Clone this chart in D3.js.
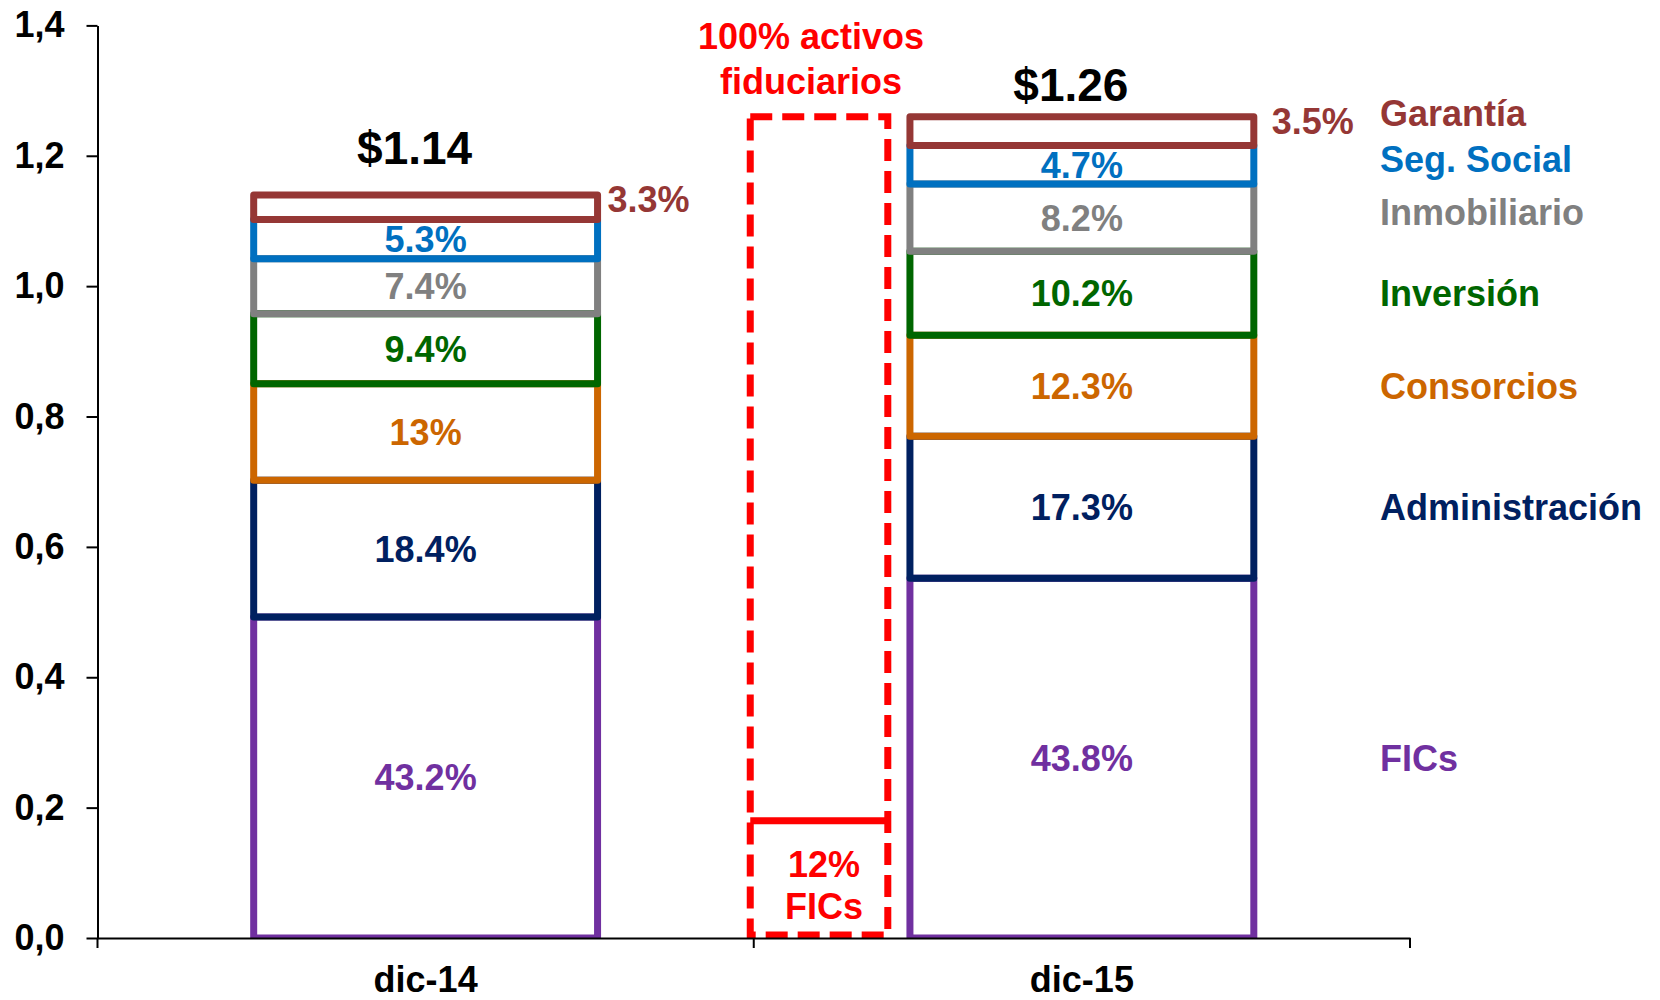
<!DOCTYPE html>
<html>
<head>
<meta charset="utf-8">
<script src="https://cdn.jsdelivr.net/npm/d3@7"></script>
<style>
  html, body { margin: 0; padding: 0; background: #fff; }
  svg { display: block; }
  text { font-family: "Liberation Sans", Arial, sans-serif; font-weight: bold; }
</style>
</head>
<body>
<svg id="chart" width="1660" height="1000"></svg>
<script>
// Data
const categories = ['dic-14', 'dic-15'];
const totals = [1.14, 1.26];
const totalLabels = ['$1.14', '$1.26'];
const segmentNames = ['FICs', 'Administración', 'Consorcios', 'Inversión', 'Inmobiliario', 'Seg. Social', 'Garantía'];
const segmentColors = ['#7030A0', '#002060', '#CC6600', '#006600', '#808080', '#0070C0', '#953735'];
const shares14 = [43.2, 18.4, 13, 9.4, 7.4, 5.3, 3.3];
const shares15 = [43.8, 17.3, 12.3, 10.2, 8.2, 4.7, 3.5];
const yTicks = [0, 0.2, 0.4, 0.6, 0.8, 1.0, 1.2, 1.4];

// Fiduciary box (dashed) next to dic-15
const fiduciaryTotal = 1.26;
const ficLevel = 0.18;
const fiduciaryText = ['100% activos', 'fiduciarios'];
const ficText = ['12%', 'FICs'];

const shares = [shares14, shares15];

// Layout
const svg = d3.select('#chart');
const margin = { left: 97.5, right: 250, top: 25.4, bottom: 62 };
const W = 1660, H = 1000;
const fontSize = 36;
const strokeW = 7;

const y = d3.scaleLinear()
  .domain([0, 1.4])
  .range([H - margin.bottom, margin.top]);

const x = d3.scaleBand()
  .domain(categories)
  .range([margin.left, W - margin.right])
  .padding(0);

const barWidth = x.bandwidth() * 0.524;

// Build table for stack
const table = categories.map((c, i) => {
  const row = { cat: c, total: totals[i] };
  segmentNames.forEach((n, j) => { row[n] = totals[i] * shares[i][j] / 100; });
  return row;
});

const stacked = d3.stack().keys(segmentNames)(table);

// Clip so nothing shows below the baseline
svg.append('defs').append('clipPath').attr('id', 'plotClip')
  .append('rect')
  .attr('x', 0).attr('y', 0)
  .attr('width', W).attr('height', y(0) + 1);

const plot = svg.append('g').attr('clip-path', 'url(#plotClip)');

// Stacked segments, bottom to top so upper borders overlay lower ones
stacked.forEach((layer, j) => {
  plot.selectAll(null)
    .data(layer)
    .enter()
    .append('rect')
    .attr('x', d => x(d.data.cat) + (x.bandwidth() - barWidth) / 2)
    .attr('y', d => y(d[1]))
    .attr('width', barWidth)
    .attr('height', d => y(d[0]) - y(d[1]))
    .style('fill', 'none')
    .style('stroke', segmentColors[j])
    .style('stroke-width', strokeW)
    .style('stroke-linejoin', 'round');
});

// Dashed fiduciary box between bars
const boxLeft = x('dic-15') - 3.5;
const boxWidth = barWidth * 0.4;
plot.append('rect')
  .attr('x', boxLeft)
  .attr('y', y(fiduciaryTotal))
  .attr('width', boxWidth)
  .attr('height', y(0) - y(fiduciaryTotal) - 3)
  .style('fill', 'none')
  .style('stroke', '#FF0000')
  .style('stroke-width', strokeW)
  .style('stroke-dasharray', '22,10');

plot.append('line')
  .attr('x1', boxLeft)
  .attr('x2', boxLeft + boxWidth)
  .attr('y1', y(ficLevel))
  .attr('y2', y(ficLevel))
  .style('stroke', '#FF0000')
  .style('stroke-width', strokeW);

const boxCenter = boxLeft + boxWidth / 2;

svg.append('text')
  .attr('text-anchor', 'middle')
  .style('font-size', fontSize + 'px')
  .style('fill', '#FF0000')
  .selectAll('tspan')
  .data(fiduciaryText)
  .enter()
  .append('tspan')
  .attr('x', boxCenter - 8)
  .attr('y', (d, i) => y(fiduciaryTotal) - 68 + i * 45)
  .text(d => d);

svg.append('text')
  .attr('text-anchor', 'middle')
  .style('font-size', fontSize + 'px')
  .style('fill', '#FF0000')
  .selectAll('tspan')
  .data(ficText)
  .enter()
  .append('tspan')
  .attr('x', boxCenter + 5)
  .attr('y', (d, i) => y(0) - 61 + i * 42)
  .text(d => d);

// Segment labels; the top share sits outside the bar
const last = segmentNames.length - 1;
const outsideGap = [10, 18];
stacked.forEach((layer, j) => {
  svg.selectAll(null)
    .data(layer)
    .enter()
    .append('text')
    .attr('x', (d, i) => j === last
      ? x(d.data.cat) + (x.bandwidth() + barWidth) / 2 + outsideGap[i]
      : x(d.data.cat) + x.bandwidth() / 2)
    .attr('y', d => j === last ? y(d[1]) + 4 : (y(d[0]) + y(d[1])) / 2)
    .attr('dy', '0.36em')
    .attr('text-anchor', j === last ? 'start' : 'middle')
    .style('font-size', fontSize + 'px')
    .style('fill', segmentColors[j])
    .text((d, i) => shares[i][j] + '%');
});

// Totals above bars
const totalGap = [31, 16];
svg.selectAll('.total')
  .data(table)
  .enter()
  .append('text')
  .attr('class', 'total')
  .attr('x', d => x(d.cat) + x.bandwidth() / 2 - 11)
  .attr('y', (d, i) => y(d.total) - totalGap[i])
  .attr('text-anchor', 'middle')
  .style('font-size', '46px')
  .style('fill', '#000')
  .text((d, i) => totalLabels[i]);

// Legend aligned with dic-15 segments, pushed apart at the top
const lastCol = stacked.map(layer => (y(layer[1][0]) + y(layer[1][1])) / 2);
const legendY = lastCol.slice();
for (let j = 1; j < legendY.length; j++) {
  if (legendY[j] > legendY[j - 1] - 46) legendY[j] = legendY[j - 1] - 46;
}
svg.selectAll('.legend')
  .data(segmentNames)
  .enter()
  .append('text')
  .attr('class', 'legend')
  .attr('x', 1380)
  .attr('y', (d, j) => legendY[j] - (j >= 4 ? 6 : 0))
  .attr('dy', '0.36em')
  .style('font-size', fontSize + 'px')
  .style('fill', (d, j) => segmentColors[j])
  .text(d => d);

// Y axis
const yAxis = svg.append('g')
  .attr('transform', `translate(${margin.left},0)`)
  .call(d3.axisLeft(y)
    .tickValues(yTicks)
    .tickSize(11)
    .tickSizeOuter(0)
    .tickPadding(22)
    .tickFormat(d => d3.format('.1f')(d).replace('.', ',')));

yAxis.select('.domain').style('stroke', '#000').style('stroke-width', 2);
yAxis.selectAll('.tick line').style('stroke', '#000').style('stroke-width', 2);
yAxis.selectAll('.tick text')
  .style('font-size', fontSize + 'px')
  .style('font-family', '"Liberation Sans", Arial, sans-serif')
  .style('font-weight', 'bold')
  .style('fill', '#000');

// X axis
const xAxis = svg.append('g')
  .attr('transform', `translate(0,${y(0)})`)
  .call(d3.axisBottom(x).tickSize(0).tickSizeOuter(0).tickPadding(28));

xAxis.select('.domain').style('stroke', '#000').style('stroke-width', 2);
xAxis.selectAll('.tick text')
  .style('font-size', fontSize + 'px')
  .style('font-family', '"Liberation Sans", Arial, sans-serif')
  .style('font-weight', 'bold')
  .style('fill', '#000');

// Tick marks at band boundaries
const bounds = categories.map(c => x(c)).concat([x.range()[1]]);
xAxis.selectAll('.bound')
  .data(bounds)
  .enter()
  .append('line')
  .attr('class', 'bound')
  .attr('x1', d => d).attr('x2', d => d)
  .attr('y1', 0).attr('y2', 10)
  .style('stroke', '#000')
  .style('stroke-width', 2);
</script>
</body>
</html>
